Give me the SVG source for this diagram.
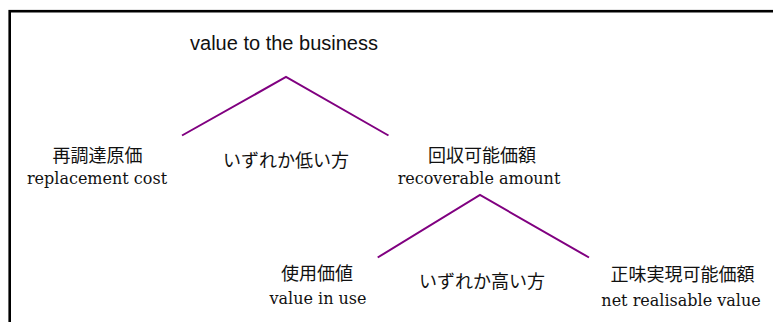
<svg xmlns="http://www.w3.org/2000/svg" width="773" height="322" viewBox="0 0 773 322">
<style>
.frame{fill:none;stroke:#000;stroke-width:2.6}
.conn{fill:none;stroke:#800080;stroke-width:2}
.sans{font-family:"Liberation Sans",Arial,sans-serif;font-size:20px;fill:#111;text-anchor:middle}
.jp{font-family:"Noto Sans CJK JP","Noto Sans CJK SC",sans-serif;font-size:18px;fill:#111;text-anchor:middle}
.en{font-family:"DejaVu Serif",serif;font-size:16px;fill:#111;text-anchor:middle}
</style>
<rect width="773" height="322" fill="#fff"/>
<rect class="frame" x="9.7" y="11.2" width="800" height="400"/>
<g id="connectors">
<polyline class="conn" points="182,135.5 286,77 388.5,135.5"/>
<polyline class="conn" points="377.7,257.5 480,195 589,257.5"/>
</g>
<g id="value-to-business"><text class="sans" x="284" y="50">value to the business</text></g>
<g id="replacement-cost"><text class="jp" x="97.5" y="162">再調達原価</text><text class="en" x="97" y="184">replacement cost</text></g>
<g id="lower-of"><text class="jp" x="286" y="167">いずれか低い方</text></g>
<g id="recoverable-amount"><text class="jp" x="482" y="162">回収可能価額</text><text class="en" x="479" y="184">recoverable amount</text></g>
<g id="value-in-use"><text class="jp" x="317" y="280">使用価値</text><text class="en" x="318" y="304">value in use</text></g>
<g id="higher-of"><text class="jp" x="482" y="288">いずれか高い方</text></g>
<g id="net-realisable-value"><text class="jp" x="682.5" y="281">正味実現可能価額</text><text class="en" x="681" y="306">net realisable value</text></g>
</svg>
